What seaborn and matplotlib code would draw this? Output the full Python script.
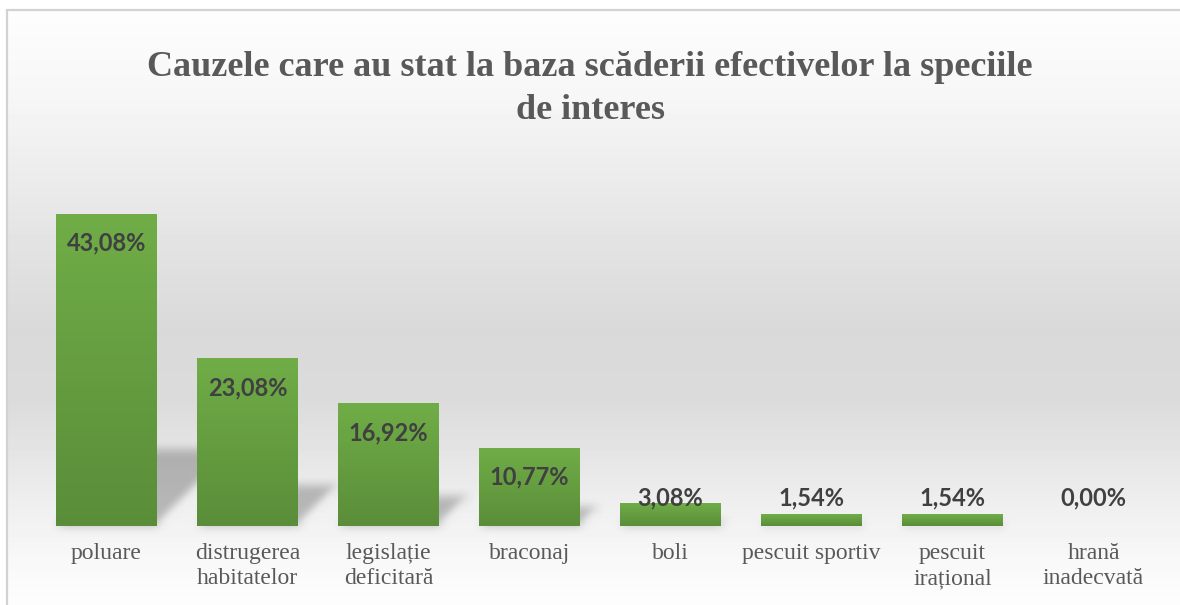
import numpy as np
import matplotlib
matplotlib.use("Agg")
import matplotlib.pyplot as plt
import seaborn as sns
from matplotlib.patches import Polygon
from matplotlib.lines import Line2D
from matplotlib.colors import LinearSegmentedColormap

# ---------------- data ----------------
categories = ["poluare", "distrugerea\nhabitatelor", "legislație\ndeficitară", "braconaj",
              "boli", "pescuit sportiv", "pescuit\nirațional", "hrană\ninadecvată"]
values = [43.08, 23.08, 16.92, 10.77, 3.08, 1.54, 1.54, 0.00]
value_labels = ["43,08%", "23,08%", "16,92%", "10,77%", "3,08%", "1,54%", "1,54%", "0,00%"]
title_lines = ["Cauzele care au stat la baza scăderii efectivelor la speciile", "de interes"]

# ---------------- style ----------------
sns.set_theme(style="white")
plt.rcParams["font.family"] = ["Liberation Serif", "DejaVu Serif"]

W, H = 1180, 605
fig = plt.figure(figsize=(W / 100, H / 100), dpi=100)

# background gradient (vertical)
bg = fig.add_axes([0, 0, 1, 1])
bg.axis("off")
ys_px = [0, 10, 100, 150, 250, 330, 400, 450, 500, 530, 560, 605]
gv = [253, 253, 246, 239, 226, 217, 219, 228, 238, 243, 248, 253]
col = np.interp(np.arange(H), ys_px, gv) / 255.0
img = np.repeat(col[:, None], W, axis=1)
img[:10, :] = 1.0
img[:, :6] = 1.0
bg.imshow(img, cmap="gray", vmin=0, vmax=1, extent=[0, 1, 0, 1], aspect="auto", zorder=0)
bg.set_xlim(0, 1)
bg.set_ylim(0, 1)

# frame
fig.add_artist(Line2D([6.5 / W, 6.5 / W], [0, 1 - 10 / H], color="#d2d2d2", lw=1.6,
                      transform=fig.transFigure))
fig.add_artist(Line2D([6.5 / W, 1], [1 - 10 / H, 1 - 10 / H], color="#d2d2d2", lw=1.6,
                      transform=fig.transFigure))

# main axes
ax = fig.add_axes([36 / W, 79 / H, 1128 / W, 362 / H])
ax.patch.set_alpha(0)

sns.barplot(x=categories, y=values, color="#6aa843", saturation=1, width=0.716, ax=ax,
            zorder=3, linewidth=0, edgecolor="none")
ax.set_xlim(-0.5, 7.5)
ax.set_ylim(0, 50)


# blur filter for shadows
def _box(a, r, axis):
    a = np.swapaxes(a, 0, axis)
    p = np.pad(a, ((r + 1, r),) + ((0, 0),) * (a.ndim - 1))
    c = np.cumsum(p, axis=0)
    out = (c[2 * r + 1:] - c[:-2 * r - 1]) / (2 * r + 1)
    return np.swapaxes(out, 0, axis)


def shadow_filter(im, dpi):
    pad = 24
    out = np.pad(im, ((pad, pad), (pad, pad), (0, 0)))
    for _ in range(3):
        out = _box(out, 4, 0)
        out = _box(out, 4, 1)
    return out, -pad, -pad


cmap = LinearSegmentedColormap.from_list("g", ["#5a8d39", "#70ad47"])
grad = np.linspace(0, 1, 256).reshape(-1, 1)

# pixel scales for shadow geometry
px_per_x = 1128 / 8.0
px_per_y = 362 / 50.0

for p in list(ax.patches):
    x0 = p.get_x()
    w = p.get_width()
    h = p.get_height()
    p.set_visible(False)
    if h <= 0:
        continue
    # gradient fill
    ax.imshow(grad, cmap=cmap, origin="lower", extent=[x0, x0 + w, 0, h],
              aspect="auto", zorder=4, interpolation="bilinear")
    # perspective shadow behind the bar
    dy = 0.245 * h
    dx = dy * px_per_y / px_per_x
    sh = Polygon([(x0, 0), (x0 + w, 0), (x0 + w + dx, dy), (x0 + dx, dy)],
                 closed=True, facecolor="black", edgecolor="none", alpha=0.24, zorder=2)
    sh.set_agg_filter(shadow_filter)
    ax.add_patch(sh)

ax.set_xlim(-0.5, 7.5)
ax.set_ylim(0, 50)

# value labels
for i, (v, lbl) in enumerate(zip(values, value_labels)):
    ax.annotate(lbl, xy=(i, max(v, 7.9)), xytext=(0, -21), textcoords="offset points",
                ha="center", va="center", fontfamily=["Lato", "DejaVu Sans"],
                fontweight="bold", fontsize=17, color="#404040", zorder=6)

ax.set_xticks(range(len(categories)))
ax.set_xticklabels(categories, fontfamily=["Liberation Serif", "DejaVu Serif"],
                   fontsize=17, color="#595959", linespacing=1.3)
ax.tick_params(axis="x", length=0, pad=12)
ax.set_yticks([])
ax.set_xlabel("")
ax.set_ylabel("")
for s in ax.spines.values():
    s.set_visible(False)

# title
for txt, ypx in zip(title_lines, [68, 110]):
    fig.text(0.5, 1 - ypx / H, txt, ha="center", va="center", fontsize=26,
             fontweight="bold", color="#595959", family=["Liberation Serif", "DejaVu Serif"])

fig.savefig("out.png", dpi=100)
